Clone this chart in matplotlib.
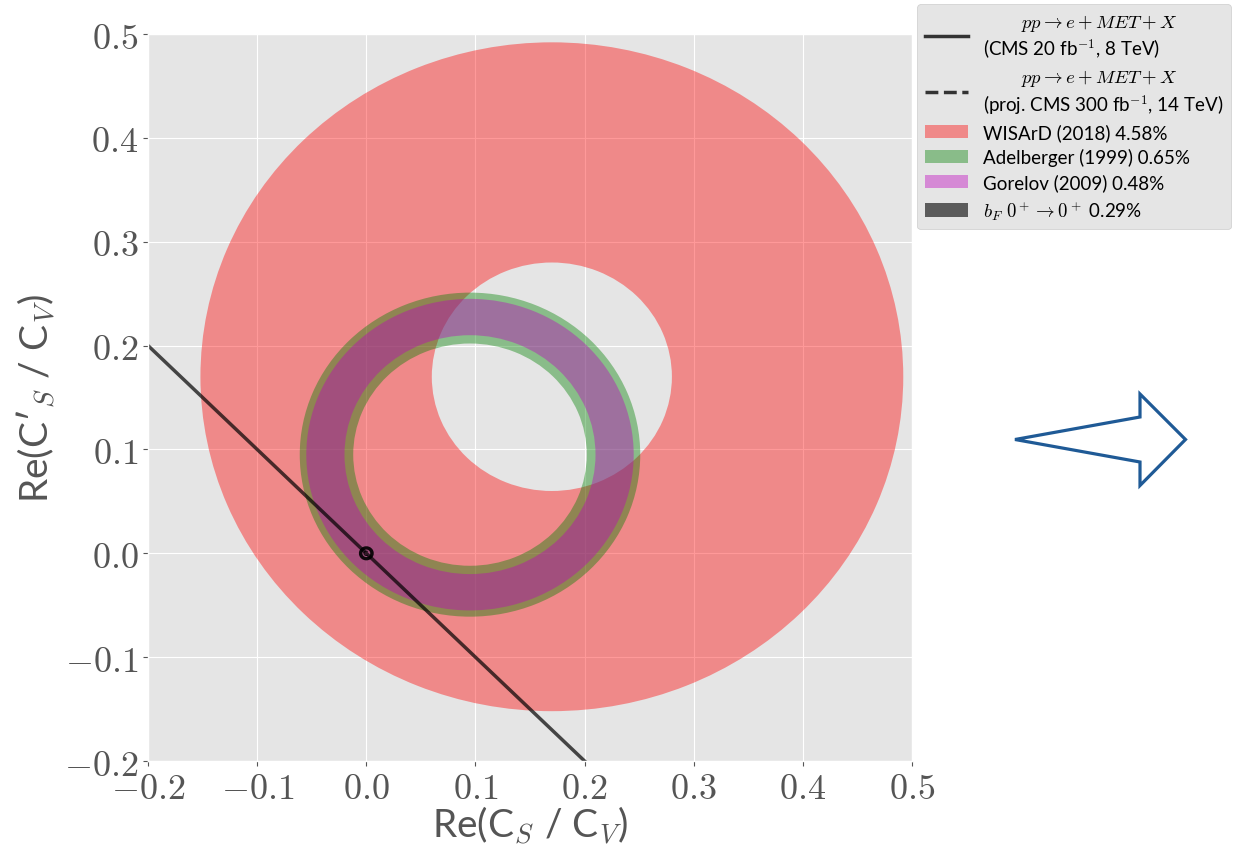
import matplotlib
matplotlib.use("Agg")
import matplotlib.pyplot as plt
from matplotlib.patches import Wedge, Patch, Polygon
from matplotlib.lines import Line2D
from matplotlib.ticker import FuncFormatter

plt.style.use('ggplot')
plt.rcParams['mathtext.fontset'] = 'cm'
plt.rcParams['font.family'] = ['Lato', 'DejaVu Sans']

# annuli: centre (x, y), inner radius, outer radius
wisard_center = (0.17, 0.17)
wisard_radii = (0.110, 0.322)
adel_center = (0.095, 0.095)
adel_radii = (0.107, 0.156)
gorelov_center = (0.095, 0.095)
gorelov_radii = (0.115, 0.150)
bf_center = (0.0, 0.0)
bf_radii = (0.0036, 0.0068)

# CMS 8 TeV exclusion line
cms_x = [-0.2, 0.2]
cms_y = [0.2, -0.2]

ticks = [-0.2, -0.1, 0.0, 0.1, 0.2, 0.3, 0.4, 0.5]

labels = [r"        $pp \rightarrow e + MET + X$" + "\n(CMS 20 fb$^{-1}$, 8 TeV)",
          r"        $pp \rightarrow e + MET + X$" + "\n(proj. CMS 300 fb$^{-1}$, 14 TeV)",
          "WISArD (2018) 4.58%",
          "Adelberger (1999) 0.65%",
          "Gorelov (2009) 0.48%",
          r"$b_F\ 0^+ \rightarrow 0^+$ 0.29%"]

fig = plt.figure(figsize=(12.42, 8.54), dpi=100)
ax = fig.add_axes([0.1192, 0.1077, 0.6151, 0.8513])


def annulus(c, r, **kw):
    return Wedge(c, r[1], 0, 360, width=r[1] - r[0], **kw)


ax.add_patch(annulus(wisard_center, wisard_radii, facecolor='red', alpha=0.4, lw=0))
ax.add_patch(annulus(adel_center, adel_radii, facecolor='green', alpha=0.4, lw=0))
ax.add_patch(annulus(gorelov_center, gorelov_radii, facecolor='m', alpha=0.4, lw=0))
ax.add_patch(annulus(bf_center, bf_radii, facecolor='black', alpha=0.9, lw=0))
ax.add_patch(Wedge(bf_center, 0.0026, 50, 310, width=0.0009, facecolor='black', alpha=0.85, lw=0))

ax.plot(cms_x, cms_y, color='black', alpha=0.7, lw=2.5)

ax.set_xlim(-0.2, 0.5)
ax.set_ylim(-0.2, 0.5)
ax.set_xticks(ticks)
ax.set_yticks(ticks)
fmt = FuncFormatter(lambda v, p: r"$%.1f$" % v)
ax.xaxis.set_major_formatter(fmt)
ax.yaxis.set_major_formatter(fmt)
ax.tick_params(labelsize=26, colors='#555555')
ax.set_xlabel(r"Re(C$_S$ / C$_V$)", fontsize=28, color='#555555', labelpad=0)
ax.set_ylabel("Re(C\u2032$_S$ / C$_V$)", fontsize=28, color='#555555', labelpad=4)

handles = [Line2D([], [], color='#333333', lw=2.5),
           Line2D([], [], color='#333333', lw=2.5, ls='--'),
           Patch(facecolor='red', alpha=0.4),
           Patch(facecolor='green', alpha=0.4),
           Patch(facecolor='m', alpha=0.4),
           Patch(facecolor='black', alpha=0.6)]
leg = fig.legend(handles, labels, loc='upper left', bbox_to_anchor=(0.7385, 0.994),
                 fontsize=13.5, handlelength=2.3, framealpha=1, borderaxespad=0,
                 facecolor='#E5E5E5', edgecolor='#CCCCCC', labelspacing=0.38)

# decorative arrow to the right of the plot
arrow_px = [(1015, 440.5), (1140, 418), (1140, 395), (1185.5, 440.5),
            (1140, 486.5), (1140, 463)]
arrow_pts = [(x / 1242, 1 - y / 854) for x, y in arrow_px]
fig.patches.append(Polygon(arrow_pts, closed=True, transform=fig.transFigure,
                           facecolor='white', edgecolor='#1F5A96', lw=2.3))

fig.savefig('out.png', dpi=100)
